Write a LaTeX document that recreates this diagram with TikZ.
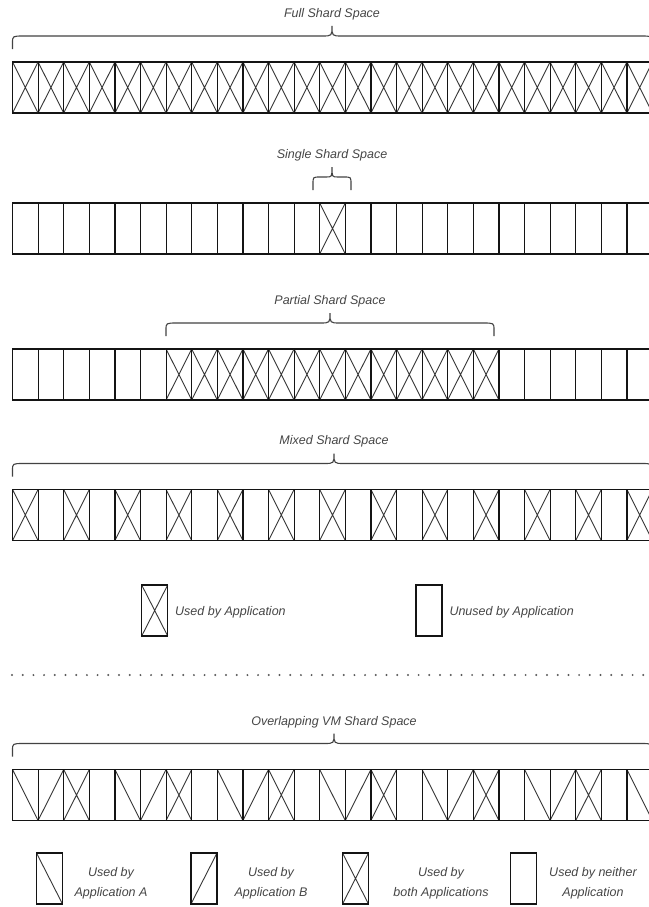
\documentclass[tikz,border=0pt]{standalone}
\usepackage{fontspec}
\setmainfont{Liberation Sans}
\definecolor{txt}{RGB}{70,70,70}
\definecolor{ln}{RGB}{20,20,20}
\tikzset{
  cellbox/.style={draw=ln, line width=1.2bp},
  diag/.style={draw=ln!85!white, line width=0.9bp},
  lbl/.style={font=\fontsize{12.5bp}{15bp}\selectfont\itshape, text=txt, inner sep=0pt},
  bracepath/.style={draw=ln!80!white, line width=1.1bp},
  dotline/.style={draw=black!65, line width=2.2bp, line cap=round, dash pattern=on 0bp off 10.7bp},
}
% #1 index, #2 row top, #3 type (0 empty, 1 both, 2 A, 3 B)
\newcommand\drawshard[3]{%
  \pgfmathsetmacro\xa{12.5+#1*25.6}%
  \pgfmathsetmacro\xb{\xa+25.6}%
  \pgfmathsetmacro\ya{#2}%
  \pgfmathsetmacro\yb{#2+51}%
  \ifnum#3=1 \draw[diag] (\xa,\ya)--(\xb,\yb) (\xb,\ya)--(\xa,\yb);\fi
  \ifnum#3=2 \draw[diag] (\xa,\ya)--(\xb,\yb);\fi
  \ifnum#3=3 \draw[diag] (\xa,\yb)--(\xb,\ya);\fi
  \draw[cellbox] (\xa,\ya) rectangle (\xb,\yb);
}
% #1 x left, #2 x right, #3 x tip, #4 row top, #5 corner r, #6 tip r
\newcommand\drawbrace[6]{%
  \draw[bracepath] (#1,#4-13) -- (#1,#4-19) .. controls (#1,#4-26) .. (#1+#5,#4-26)
    -- (#3-#6,#4-26) .. controls (#3,#4-26) .. (#3,#4-36)
    .. controls (#3,#4-26) .. (#3+#6,#4-26)
    -- (#2-#5,#4-26) .. controls (#2,#4-26) .. (#2,#4-19) -- (#2,#4-13);
}
% legend box: #1 x left, #2 y top, #3 type
\newcommand\legbox[3]{%
  \pgfmathsetmacro\xa{#1}%
  \pgfmathsetmacro\xb{#1+26}%
  \pgfmathsetmacro\ya{#2}%
  \pgfmathsetmacro\yb{#2+51}%
  \ifnum#3=1 \draw[diag] (\xa,\ya)--(\xb,\yb) (\xb,\ya)--(\xa,\yb);\fi
  \ifnum#3=2 \draw[diag] (\xa,\ya)--(\xb,\yb);\fi
  \ifnum#3=3 \draw[diag] (\xa,\yb)--(\xb,\ya);\fi
  \draw[cellbox] (\xa,\ya) rectangle (\xb,\yb);
}
\begin{document}
\begin{tikzpicture}[x=1bp,y=-1bp]
\useasboundingbox (0,0) rectangle (649,907);
\clip (0,0) rectangle (649,907);
\fill[white] (0,0) rectangle (649,907);

% Row 1: full
\node[lbl, anchor=base] (t1) at (332,17) {Full Shard Space};
\drawbrace{12.5}{652}{332}{62}{11}{10}
\foreach \i in {0,...,24} {\drawshard{\i}{62}{1}}

% Row 2: single
\node[lbl, anchor=base] (t2) at (332,158) {Single Shard Space};
\drawbrace{313}{351}{332}{203}{7}{6}
\foreach \i in {0,...,24} {%
  \pgfmathtruncatemacro\tp{\i==12 ? 1 : 0}%
  \drawshard{\i}{203}{\tp}}

% Row 3: partial
\node[lbl, anchor=base] (t3) at (330,304) {Partial Shard Space};
\drawbrace{166}{494}{330}{349}{11}{10}
\foreach \i in {0,...,24} {%
  \pgfmathtruncatemacro\tp{and(\i>5,\i<19) ? 1 : 0}%
  \drawshard{\i}{349}{\tp}}

% Row 4: mixed
\node[lbl, anchor=base] (t4) at (334,444.5) {Mixed Shard Space};
\drawbrace{12.5}{652}{334}{489.5}{11}{10}
\foreach \i in {0,...,24} {%
  \pgfmathtruncatemacro\tp{mod(\i,2)==0 ? 1 : 0}%
  \drawshard{\i}{489.5}{\tp}}

% Legend 1
\legbox{141.7}{585}{1}
\node[lbl, anchor=base west] (l1) at (175,615) {Used by Application};
\legbox{416}{585}{0}
\node[lbl, anchor=base west] (l2) at (449.3,615) {Unused by Application};

% Dotted separator
\coordinate (dotL) at (12,675);
\coordinate (dotR) at (649,675);
\draw[dotline] (dotL) -- (dotR);

% Row 5: overlapping
\node[lbl, anchor=base] (t5) at (334,725) {Overlapping VM Shard Space};
\drawbrace{12.5}{652}{334}{769.5}{11}{10}
\foreach \i in {0,...,24} {%
  \pgfmathtruncatemacro\m{mod(\i,4)}%
  \ifcase\m \drawshard{\i}{769.5}{2}\or \drawshard{\i}{769.5}{3}\or \drawshard{\i}{769.5}{1}\or \drawshard{\i}{769.5}{0}\fi}

% Legend 2
\legbox{36.5}{853}{2}
\node[lbl, anchor=base] (la1) at (111,876.5) {Used by};
\node[lbl, anchor=base] (la2) at (111,896) {Application A};
\legbox{191}{853}{3}
\node[lbl, anchor=base] (lb1) at (271,876.5) {Used by};
\node[lbl, anchor=base] (lb2) at (271,896) {Application B};
\legbox{342.5}{853}{1}
\node[lbl, anchor=base] (lc1) at (441,876.5) {Used by};
\node[lbl, anchor=base] (lc2) at (441,896) {both Applications};
\legbox{510.5}{853}{0}
\node[lbl, anchor=base] (ld1) at (593,876.5) {Used by neither};
\node[lbl, anchor=base] (ld2) at (593,896) {Application};
\end{tikzpicture}
\end{document}
